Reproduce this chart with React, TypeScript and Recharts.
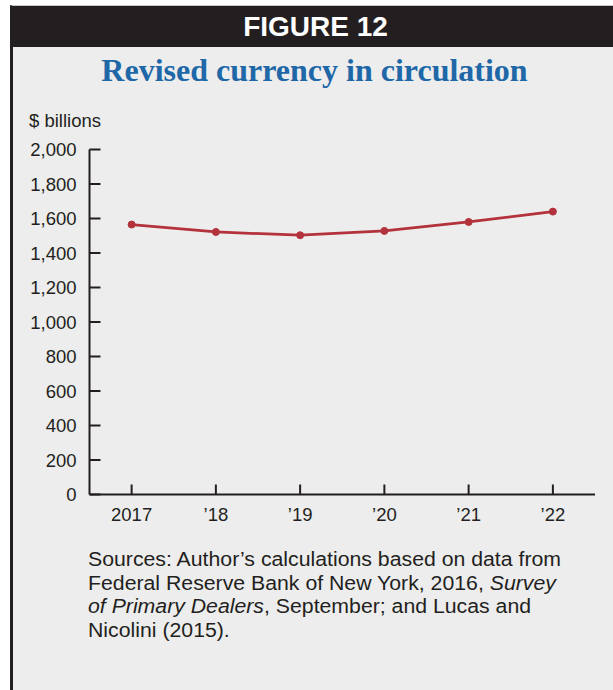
import React from 'react';
import { LineChart, Line, XAxis, YAxis } from 'recharts';

const years = [2017, 2018, 2019, 2020, 2021, 2022];
const yearLabels = ['2017', '’18', '’19', '’20', '’21', '’22'];
const currency = [1565, 1522, 1503, 1528, 1580, 1640];
const yTicks = [0, 200, 400, 600, 800, 1000, 1200, 1400, 1600, 1800, 2000];

const data = years.map((year, i) => ({ year, value: currency[i] }));

const INK = '#231f20';
const RED = '#b3323b';
const SANS = '"Liberation Sans", Arial, Helvetica, sans-serif';

const YTick = (props: any) => {
  const { x, y, payload } = props;
  return (
    <g>
      <line x1={x + 13} x2={x + 24} y1={y} y2={y} stroke={INK} strokeWidth={2} />
      <text x={x} y={y} dy="0.36em" textAnchor="end" fill={INK} fontSize={18.5} fontFamily={SANS}>
        {payload.value.toLocaleString('en-US')}
      </text>
    </g>
  );
};

const XTick = (props: any) => {
  const { x, y, payload } = props;
  const idx = years.indexOf(payload.value);
  return (
    <g>
      <line x1={x} x2={x} y1={y - 13} y2={y - 23} stroke={INK} strokeWidth={2} />
      <text x={x} y={y} dy="0.71em" textAnchor="middle" fill={INK} fontSize={18.5} fontFamily={SANS}>
        {yearLabels[idx]}
      </text>
    </g>
  );
};

export default function App() {
  return (
    <div style={{ position: 'absolute', left: 0, top: 0, width: 613, height: 690, background: '#fff', overflow: 'hidden' }}>
      {/* frame */}
      <div
        style={{
          position: 'absolute',
          left: 10,
          top: 5,
          width: 600,
          height: 685,
          background: '#ededed',
          borderLeft: `3px solid ${INK}`,
          borderTop: '1px solid #c8c8c8',
        }}
      />
      {/* header bar */}
      <div
        style={{
          position: 'absolute',
          left: 10,
          top: 6,
          width: 603,
          height: 41,
          background: INK,
          color: '#fff',
          fontFamily: SANS,
          fontWeight: 'bold',
          fontSize: 28,
          lineHeight: '41px',
          textAlign: 'center',
          paddingLeft: 8,
          boxSizing: 'border-box',
        }}
      >
        FIGURE 12
      </div>
      <div
        style={{
          position: 'absolute',
          left: 10,
          top: 54.2,
          width: 603,
          fontFamily: '"Liberation Serif", "Times New Roman", serif',
          fontWeight: 'bold',
          fontSize: 32,
          lineHeight: '32px',
          color: '#1f68a8',
          textAlign: 'center',
          paddingLeft: 6,
          boxSizing: 'border-box',
          whiteSpace: 'nowrap',
        }}
      >
        Revised currency in circulation
      </div>
      <div
        style={{
          position: 'absolute',
          left: 29,
          top: 112.4,
          fontFamily: SANS,
          fontSize: 18.5,
          lineHeight: '18.5px',
          color: INK,
          whiteSpace: 'nowrap',
        }}
      >
        $ billions
      </div>

      <div style={{ position: 'absolute', left: 0, top: 0 }}>
        <LineChart width={613} height={540} data={data} margin={{ top: 149.5, right: 18, bottom: 15.5, left: 0 }}>
          <XAxis
            type="number"
            dataKey="year"
            domain={[2016.5, 2022.5]}
            ticks={years}
            interval={0}
            height={30}
            tickSize={0}
            tickMargin={13}
            axisLine={{ stroke: INK, strokeWidth: 2 }}
            tickLine={false}
            tick={<XTick />}
          />
          <YAxis
            type="number"
            domain={[0, 2000]}
            ticks={yTicks}
            interval={0}
            width={89.5}
            tickSize={0}
            tickMargin={13}
            axisLine={{ stroke: INK, strokeWidth: 2 }}
            tickLine={false}
            tick={<YTick />}
          />
          <Line
            type="linear"
            dataKey="value"
            stroke={RED}
            strokeWidth={2.75}
            dot={{ r: 3.5, fill: RED, stroke: RED, strokeWidth: 1 }}
            activeDot={false}
            isAnimationActive={false}
          />
        </LineChart>
      </div>

      <div
        style={{
          position: 'absolute',
          left: 88,
          top: 548.2,
          fontFamily: SANS,
          fontSize: 19.5,
          lineHeight: '23.5px',
          color: INK,
          whiteSpace: 'nowrap',
          transform: 'scaleX(1.09)',
          transformOrigin: 'left top',
        }}
      >
        Sources: Author’s calculations based on data from
        <br />
        Federal Reserve Bank of New York, 2016, <i>Survey</i>
        <br />
        <i>of Primary Dealers</i>, September; and Lucas and
        <br />
        Nicolini (2015).
      </div>
    </div>
  );
}
